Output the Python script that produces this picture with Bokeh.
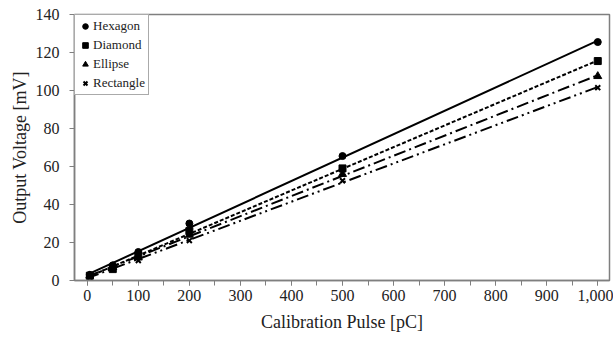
import numpy as np
from bokeh.plotting import figure
from bokeh.models import Range1d, SingleIntervalTicker, NumeralTickFormatter, Legend, LegendItem
from bokeh.embed import file_html
from bokeh.resources import INLINE

pulse = [5, 50, 100, 200, 500, 1000]
hexagon = [3.0, 8.0, 15.0, 30.0, 65.5, 125.5]
diamond = [2.5, 6.0, 13.0, 26.0, 59.0, 115.5]
ellipse = [2.5, 7.0, 12.0, 24.0, 56.0, 107.5]
rectangle = [2.0, 6.5, 10.5, 21.0, 52.5, 101.5]

series = [
    ("Hexagon", hexagon, "circle", "solid", 7),
    ("Diamond", diamond, "square", "4 2", 7),
    ("Ellipse", ellipse, "triangle", "12 4 2 4", 8),
    ("Rectangle", rectangle, "x", "12 4 2 4 2 4", 7),
]

FONT = "Liberation Serif"
p = figure(frame_width=535, frame_height=266, output_backend="svg", toolbar_location=None,
           x_range=Range1d(-25, 1023), y_range=Range1d(0, 140),
           min_border_left=74, min_border_top=14, min_border_right=4, min_border_bottom=40)
p.xgrid.visible = False
p.ygrid.visible = False
p.outline_line_color = "#7f7f7f"
p.outline_line_width = 1.5

items = []
for name, vals, marker, dash, size in series:
    k, b = np.polyfit(pulse, vals, 1)
    xs = [0, 1000]
    p.line(xs, [b + k * x for x in xs], line_color="black", line_width=2, line_dash=dash)
    r = p.scatter(pulse, vals, marker=marker, size=size, color="black", line_width=2 if marker == "x" else 1)
    items.append(LegendItem(label=name, renderers=[r]))

legend = Legend(items=items, location="top_left", label_text_font=FONT, label_text_font_size="13px",
                label_text_color="#222222",
                border_line_color="#555555", border_line_width=1, background_fill_alpha=1,
                margin=0, padding=3, spacing=3, glyph_width=14, glyph_height=16, label_standoff=1,
                label_height=16)
p.add_layout(legend)

p.xaxis.ticker = SingleIntervalTicker(interval=100, num_minor_ticks=2)
p.xaxis.formatter = NumeralTickFormatter(format="0,0")
p.yaxis.ticker = SingleIntervalTicker(interval=20, num_minor_ticks=0)
for ax in (p.xaxis[0], p.yaxis[0]):
    ax.axis_line_color = "#7f7f7f"
    ax.axis_line_width = 1.5
    ax.major_tick_line_color = "#7f7f7f"
    ax.minor_tick_line_color = "#7f7f7f"
    ax.major_tick_in = 0
    ax.major_tick_out = 5
    ax.minor_tick_in = 0
    ax.minor_tick_out = 5
    ax.major_label_text_font = FONT
    ax.major_label_text_font_size = "16px"
    ax.major_label_text_color = "#222222"
    ax.axis_label_text_font = FONT
    ax.axis_label_text_font_size = "18px"
    ax.axis_label_text_font_style = "normal"
    ax.axis_label_text_color = "#222222"
p.yaxis.minor_tick_out = 0
p.xaxis.axis_label = "Calibration Pulse [pC]"
p.yaxis.axis_label = "Output Voltage [mV]"
p.xaxis.major_label_standoff = 4
p.yaxis.major_label_standoff = 10
p.xaxis.axis_label_standoff = 8
p.yaxis.axis_label_standoff = 3

open("out.html", "w").write(file_html(p, INLINE))
